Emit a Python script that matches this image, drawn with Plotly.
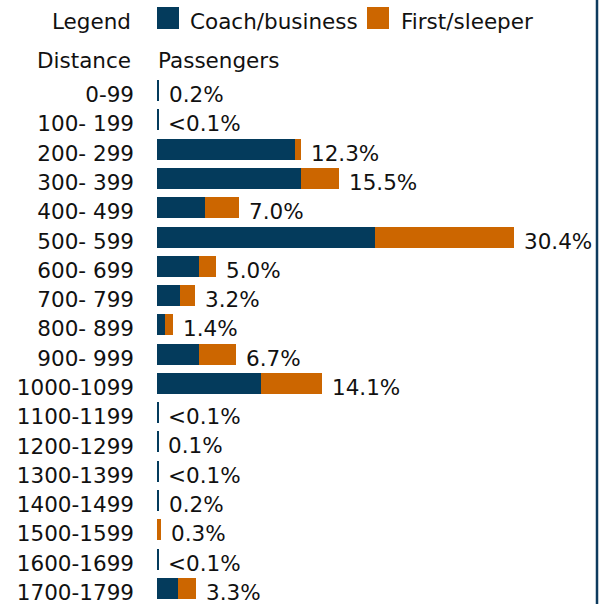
import plotly.graph_objects as go

categories = ['0-99', '100- 199', '200- 299', '300- 399', '400- 499', '500- 599',
              '600- 699', '700- 799', '800- 899', '900- 999', '1000-1099',
              '1100-1199', '1200-1299', '1300-1399', '1400-1499', '1500-1599',
              '1600-1699', '1700-1799']
coach_business = [0.2, 0.09, 11.8, 12.3, 4.1, 18.6, 3.6, 2.0, 0.7, 3.6, 8.9,
                  0.09, 0.1, 0.09, 0.2, 0.0, 0.09, 1.8]
first_sleeper = [0.0, 0.0, 0.5, 3.2, 2.9, 11.8, 1.4, 1.2, 0.7, 3.1, 5.2,
                 0.0, 0.0, 0.0, 0.0, 0.3, 0.0, 1.5]
value_labels = ['0.2%', '<0.1%', '12.3%', '15.5%', '7.0%', '30.4%', '5.0%', '3.2%',
                '1.4%', '6.7%', '14.1%', '<0.1%', '0.1%', '<0.1%', '0.2%', '0.3%',
                '<0.1%', '3.3%']
series_names = ['Coach/business', 'First/sleeper']
colors = ['#043b5c', '#cc6600']

FONT = 'DejaVu Sans'
FS = 21.5
TXT = '#111111'
W, H = 608, 604
ML, MR, MT, MB = 157, 11, 76, 1
PW = W - ML - MR
PH = H - MT - MB


def px_x(px):
    return (px - ML) / PW


def px_y(py):
    return (H - MB - py) / PH


fig = go.Figure()
for name, vals, col in zip(series_names, [coach_business, first_sleeper], colors):
    fig.add_trace(go.Bar(
        x=vals, y=categories, orientation='h', name=name,
        marker=dict(color=col, line=dict(width=0)),
        showlegend=False, hoverinfo='x+y+name'))

totals = [a + b for a, b in zip(coach_business, first_sleeper)]
annotations = []
for cat, tot, lab in zip(categories, totals, value_labels):
    annotations.append(dict(x=tot, y=cat, xref='x', yref='y', text=lab,
                            showarrow=False, xanchor='left', yanchor='middle',
                            xshift=8, yshift=-4,
                            font=dict(family=FONT, size=FS, color=TXT)))

# header texts
annotations.append(dict(x=px_x(133), y=px_y(21), xref='paper', yref='paper',
                        text='Legend', showarrow=False, xanchor='right',
                        yanchor='middle', font=dict(family=FONT, size=FS, color=TXT)))
annotations.append(dict(x=px_x(133), y=px_y(61), xref='paper', yref='paper',
                        text='Distance', showarrow=False, xanchor='right',
                        yanchor='middle', font=dict(family=FONT, size=FS, color=TXT)))
annotations.append(dict(x=px_x(156), y=px_y(61), xref='paper', yref='paper',
                        text='Passengers', showarrow=False, xanchor='left',
                        yanchor='middle', font=dict(family=FONT, size=FS, color=TXT)))

shapes = []
legend_items = [(157, 188), (367, 399)]
for (sx, tx), name, col in zip(legend_items, series_names, colors):
    shapes.append(dict(type='rect', xref='paper', yref='paper',
                       x0=px_x(sx), x1=px_x(sx + 22), y0=px_y(29), y1=px_y(7),
                       fillcolor=col, line=dict(width=0)))
    annotations.append(dict(x=px_x(tx), y=px_y(21), xref='paper', yref='paper',
                            text=name, showarrow=False, xanchor='left',
                            yanchor='middle', font=dict(family=FONT, size=FS, color=TXT)))

# right border line
shapes.append(dict(type='line', xref='paper', yref='paper',
                   x0=px_x(597), x1=px_x(597), y0=px_y(H + 2), y1=px_y(-2),
                   line=dict(color='#0d3b5e', width=2.5)))

fig.update_layout(
    width=W, height=H,
    margin=dict(l=ML, r=MR, t=MT, b=MB, pad=0, autoexpand=False),
    barmode='stack', bargap=0.284,
    plot_bgcolor='white', paper_bgcolor='white',
    font=dict(family=FONT, size=FS, color=TXT),
    xaxis=dict(range=[0, 37.5], showgrid=False, zeroline=False, automargin=False,
               showticklabels=False, ticks='', showline=False, fixedrange=True),
    yaxis=dict(type='category', categoryorder='array', categoryarray=categories,
               range=[len(categories) - 0.5, -0.5], autorange=False,
               showgrid=False, zeroline=False, showline=False, ticks='',
               automargin=False,
               tickfont=dict(family=FONT, size=FS, color=TXT),
               ticklabelstandoff=22, ticklabelshift=-4, fixedrange=True),
    annotations=annotations, shapes=shapes,
)

fig.write_html('out.html', config={'displayModeBar': False},
               post_script="document.body.style.margin='0px';document.body.style.overflow='hidden';")
